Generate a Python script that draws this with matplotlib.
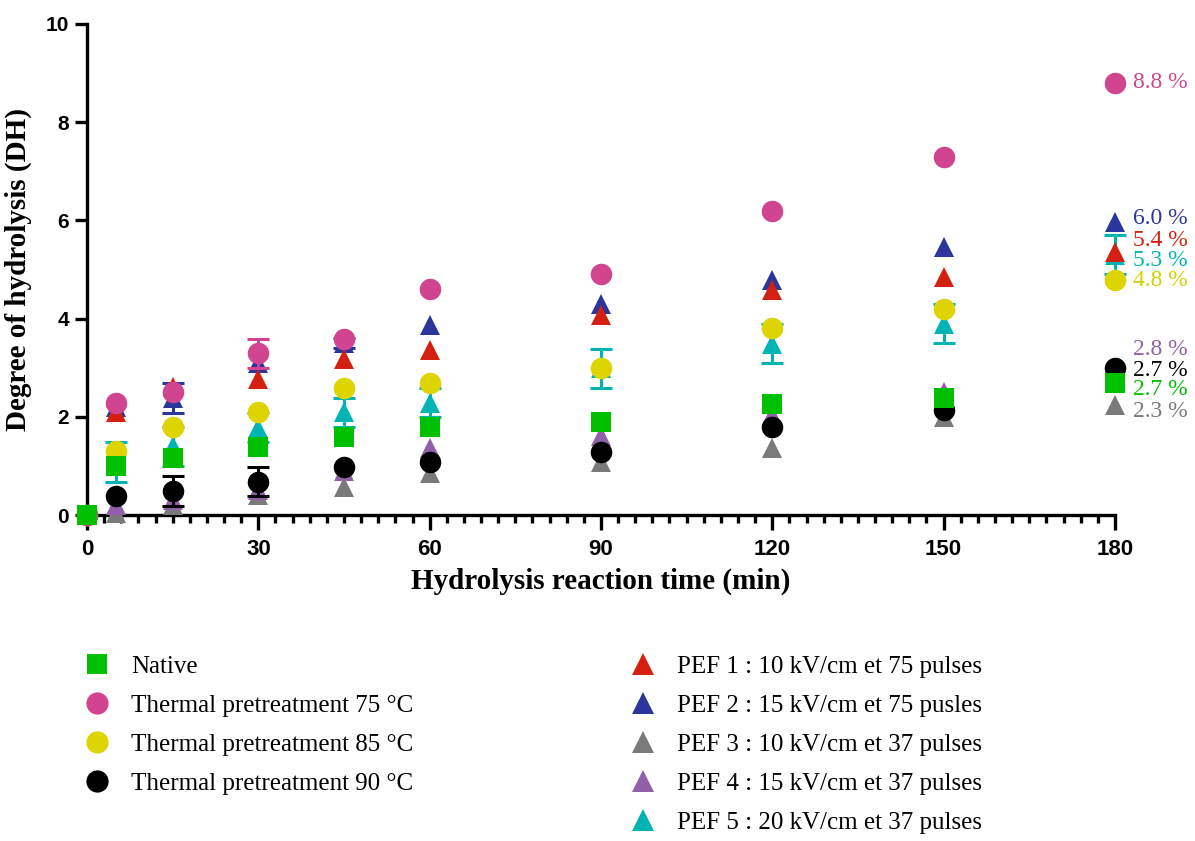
import numpy as np
import matplotlib
matplotlib.use("Agg")
import matplotlib.pyplot as plt
from matplotlib.lines import Line2D
from matplotlib.ticker import MultipleLocator

# temps de réaction (min)
time = [0, 5, 15, 30, 45, 60, 90, 120, 150, 180]

native = [0, 1.0, 1.17, 1.38, 1.58, 1.79, 1.89, 2.27, 2.38, 2.68]
thermal75 = [0, 2.29, 2.5, 3.29, 3.58, 4.6, 4.9, 6.19, 7.3, 8.8]
thermal85 = [0, 1.31, 1.79, 2.09, 2.59, 2.69, 2.99, 3.8, 4.19, 4.79]
thermal90 = [0, 0.39, 0.49, 0.68, 0.98, 1.09, 1.29, 1.79, 2.14, 3.0]
pef1 = [0, 2.1, 2.6, 2.76, 3.17, 3.36, 4.07, 4.58, 4.85, 5.36]
pef2 = [0, 2.2, 2.38, 3.1, 3.5, 3.87, 4.3, 4.79, 5.46, 5.97]
pef3 = [0, 0.05, 0.2, 0.4, 0.58, 0.85, 1.09, 1.36, 2.0, 2.24]
pef4 = [0, 0.2, 0.3, 0.5, 0.9, 1.36, 1.6, 2.04, 2.5, 2.8]
pef5 = [0, 1.08, 1.4, 1.78, 2.09, 2.29, 2.99, 3.49, 3.9, 5.3]

# écarts-types (0 = pas de barre visible)
thermal75_err = [0, 0, 0, 0.3, 0, 0, 0, 0, 0, 0]
thermal90_err = [0, 0, 0.3, 0.3, 0, 0, 0, 0, 0, 0]
pef2_err = [0, 0, 0.3, 0, 0.1, 0, 0, 0, 0, 0]
pef5_err = [0, 0.4, 0.4, 0.3, 0.3, 0.3, 0.4, 0.4, 0.4, 0.4]
zero_err = [0] * len(time)

labels_left = ["Native", "Thermal pretreatment 75 °C",
               "Thermal pretreatment 85 °C", "Thermal pretreatment 90 °C"]
labels_right = ["PEF 1 : 10 kV/cm et 75 pulses", "PEF 2 : 15 kV/cm et 75 pusles",
                "PEF 3 : 10 kV/cm et 37 pulses", "PEF 4 : 15 kV/cm et 37 pulses",
                "PEF 5 : 20 kV/cm et 37 pulses"]

final_labels = ["8.8 %", "6.0 %", "5.4 %", "5.3 %", "4.8 %", "2.8 %", "2.7 %", "2.7 %", "2.3 %"]

c_native = "#00C000"
c_t75 = "#D04490"
c_t85 = "#DDD400"
c_t90 = "#000000"
c_p1 = "#D42010"
c_p2 = "#2B369C"
c_p3 = "#7A7A7A"
c_p4 = "#9060A8"
c_p5 = "#00B4B4"

final_colors = [c_t75, c_p2, c_p1, c_p5, "#D8D000", c_p4, c_t90, c_native, c_p3]
final_y = [8.8, 6.03, 5.6, 5.19, 4.77, 3.38, 2.95, 2.55, 2.1]  # position des étiquettes

serif = "Liberation Serif"
sans = "Liberation Sans"

fig = plt.figure(figsize=(11.95, 8.41), dpi=100)
ax = fig.add_axes([0.0728, 0.3876, 0.8602, 0.5839])

# ordre de tracé : du fond vers le dessus
series = [
    (pef3, zero_err, c_p3, "^", 15),
    (pef4, zero_err, c_p4, "^", 15),
    (pef5, pef5_err, c_p5, "^", 15),
    (pef2, pef2_err, c_p2, "^", 15),
    (pef1, zero_err, c_p1, "^", 15),
    (thermal90, thermal90_err, c_t90, "o", 15.5),
    (thermal85, zero_err, c_t85, "o", 15.5),
    (thermal75, thermal75_err, c_t75, "o", 15.5),
    (native, zero_err, c_native, "s", 15),
]

z = 3
for vals, err, col, mk, ms in series:
    t = np.array(time)
    v = np.array(vals)
    e = np.array(err)
    m = e > 0
    if m.any():
        ax.errorbar(t[m], v[m], yerr=e[m], fmt="none", ecolor=col, elinewidth=2.2,
                    capsize=8, capthick=2.2, zorder=z, clip_on=False)
    ax.plot(t, v, linestyle="none", marker=mk, markersize=ms, color=col,
            markeredgewidth=0, zorder=z + 0.5, clip_on=False)
    z += 1

for txt, col, yy in zip(final_labels, final_colors, final_y):
    ax.text(183.2, yy, txt, color=col, fontsize=17, family=serif,
            va="center", ha="left", clip_on=False)

ax.set_xlim(0, 180)
ax.set_ylim(0, 10)
ax.xaxis.set_major_locator(MultipleLocator(30))
ax.xaxis.set_minor_locator(MultipleLocator(3))
ax.yaxis.set_major_locator(MultipleLocator(2))

for s in ["top", "right"]:
    ax.spines[s].set_visible(False)
for s in ["left", "bottom"]:
    ax.spines[s].set_linewidth(2.4)

ax.tick_params(axis="both", which="major", direction="out", width=2.4, labelsize=15)
ax.tick_params(axis="x", which="major", length=11, pad=6, labelsize=16)
ax.tick_params(axis="x", which="minor", length=6, width=2.4, direction="out")
ax.tick_params(axis="y", which="major", length=9, pad=4)
for lab in ax.get_xticklabels() + ax.get_yticklabels():
    lab.set_fontweight("bold")
    lab.set_family(sans)

ax.set_xlabel("Hydrolysis reaction time (min)", fontsize=21, fontweight="bold",
              family=serif, labelpad=6)
ax.set_ylabel("Degree of hydrolysis (DH)", fontsize=21, fontweight="bold",
              family=serif, labelpad=10)

# légendes en deux colonnes
h_left = [Line2D([], [], ls="none", marker="s", ms=15, color=c_native, mew=0),
          Line2D([], [], ls="none", marker="o", ms=16, color=c_t75, mew=0),
          Line2D([], [], ls="none", marker="o", ms=16, color=c_t85, mew=0),
          Line2D([], [], ls="none", marker="o", ms=16, color=c_t90, mew=0)]
h_right = [Line2D([], [], ls="none", marker="^", ms=16, color=c, mew=0)
           for c in [c_p1, c_p2, c_p3, c_p4, c_p5]]

leg_kw = dict(frameon=False, loc="upper left", borderpad=0, borderaxespad=0,
              handlelength=1.0, handletextpad=0.85, labelspacing=0.66,
              prop={"family": serif, "size": 18})
fig.legend(h_left, labels_left, bbox_to_anchor=(0.0707, 0.2210), **leg_kw)
fig.legend(h_right, labels_right, bbox_to_anchor=(0.5276, 0.2210), **leg_kw)

fig.savefig("out.png", dpi=100)
